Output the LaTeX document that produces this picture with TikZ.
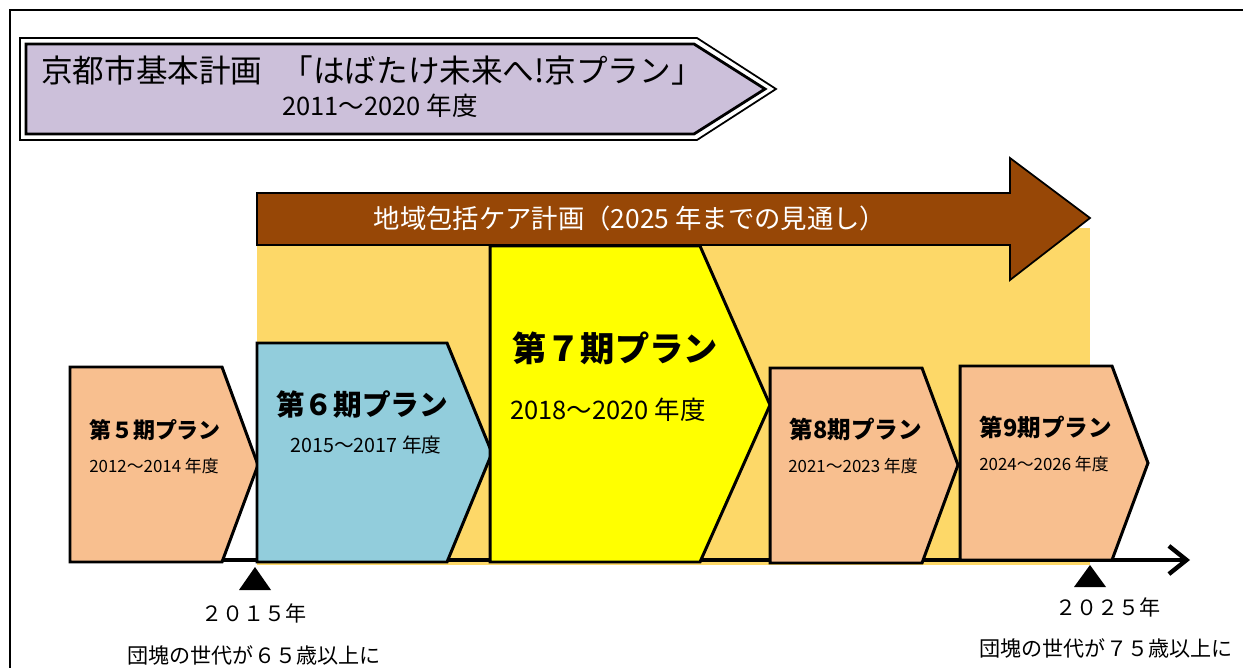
\documentclass[tikz,border=0pt]{standalone}
\usepackage{fontspec}
\setmainfont{Noto Sans CJK JP}
\usetikzlibrary{arrows.meta}

\definecolor{titlelila}{HTML}{CCC0DA}
\definecolor{careBrown}{HTML}{974706}
\definecolor{bgGold}{HTML}{FDD868}
\definecolor{peach}{HTML}{F8BF8F}
\definecolor{skyblue}{HTML}{92CDDC}
\definecolor{planyellow}{HTML}{FFFF00}

\begin{document}
\begin{tikzpicture}[x=0.02cm, y=-0.02cm,
    plan/.style={draw=black, line width=1.7pt, line join=miter},
    plantitle/.style={font=\bfseries\fontsize{#1}{#1}\selectfont, inner sep=0pt},
    planyears/.style={font=\fontsize{#1}{#1}\selectfont, inner sep=0pt},
    marktext/.style={font=\fontsize{12pt}{14pt}\selectfont, inner sep=0pt}]
    \useasboundingbox (0,0) rectangle (1243,668);

    % frame
    \draw[line width=1.2pt] (10,668) -- (10,10) -- (1243,10);

    % city plan
    \draw[fill=white, line width=1pt] (20,38) -- (697,38) -- (776,89) -- (697,140) -- (20,140) -- cycle;
    \draw[fill=titlelila, line width=1.6pt] (26,44) -- (694,44) -- (765,89) -- (694,134) -- (26,134) -- cycle;
    \node[font=\fontsize{18pt}{20pt}\selectfont, inner sep=0pt] (city) at (372,70) {京都市基本計画\hspace{0.6em}「はばたけ未来へ!京プラン」};
    \node[font=\fontsize{14.5pt}{17pt}\selectfont, inner sep=0pt] (cityyears) at (380,106) {2011～2020 年度};

    % background + care plan arrow
    \fill[bgGold] (257,228) rectangle (1090,565);
    \draw[fill=careBrown, line width=1pt] (257,193) -- (1010,193) -- (1010,158) -- (1090,218)
        -- (1010,280) -- (1010,245) -- (257,245) -- cycle;
    \node[font=\fontsize{15pt}{18pt}\selectfont, text=white, inner sep=0pt] (care) at (630,218)
        {地域包括ケア計画（2025 年までの見通し）};

    % time axis
    \draw[line width=2.5pt, -{Straight Barb[length=10pt, width=16pt, line width=2.5pt]}] (70,560) -- (1190,560);

    % plans
    \draw[plan, fill=peach] (70,367) -- (222,367) -- (258,465) -- (222,562) -- (70,562) -- cycle;
    \draw[plan, fill=skyblue] (257,343) -- (447,343) -- (492,453) -- (447,562) -- (257,562) -- cycle;
    \draw[plan, fill=planyellow] (490,246) -- (700,246) -- (770,405) -- (700,562) -- (490,562) -- cycle;
    \draw[plan, fill=peach] (770,368) -- (922,368) -- (958,465) -- (922,563) -- (770,563) -- cycle;
    \draw[plan, fill=peach] (960,366) -- (1112,366) -- (1148,463) -- (1112,560) -- (960,560) -- cycle;

    \node[plantitle=12.5pt] (p5) at (155,430) {第５期プラン};
    \node[planyears=9.6pt] (p5y) at (154,466) {2012～2014 年度};
    \node[plantitle=16.3pt] (p6) at (362,405) {第６期プラン};
    \node[planyears=11.2pt] (p6y) at (366,445) {2015～2017 年度};
    \node[plantitle=19.5pt] (p7) at (615,348) {第７期プラン};
    \node[planyears=14.5pt] (p7y) at (608,410) {2018～2020 年度};
    \node[plantitle=13.4pt] (p8) at (856,429) {第8期プラン};
    \node[planyears=9.6pt] (p8y) at (853,466) {2021～2023 年度};
    \node[plantitle=13.4pt] (p9) at (1046,427) {第9期プラン};
    \node[planyears=9.6pt] (p9y) at (1044,464) {2024～2026 年度};

    % milestones
    \fill (255,567) -- (271,590) -- (239,590) -- cycle;
    \fill (1090,565) -- (1106,587) -- (1074,587) -- cycle;
    \node[marktext] (y2015) at (254,613) {２０１５年};
    \node[marktext] (age65) at (254,655) {団塊の世代が６５歳以上に};
    \node[marktext] (y2025) at (1108,607) {２０２５年};
    \node[marktext] (age75) at (1106,648) {団塊の世代が７５歳以上に};
\end{tikzpicture}
\end{document}
